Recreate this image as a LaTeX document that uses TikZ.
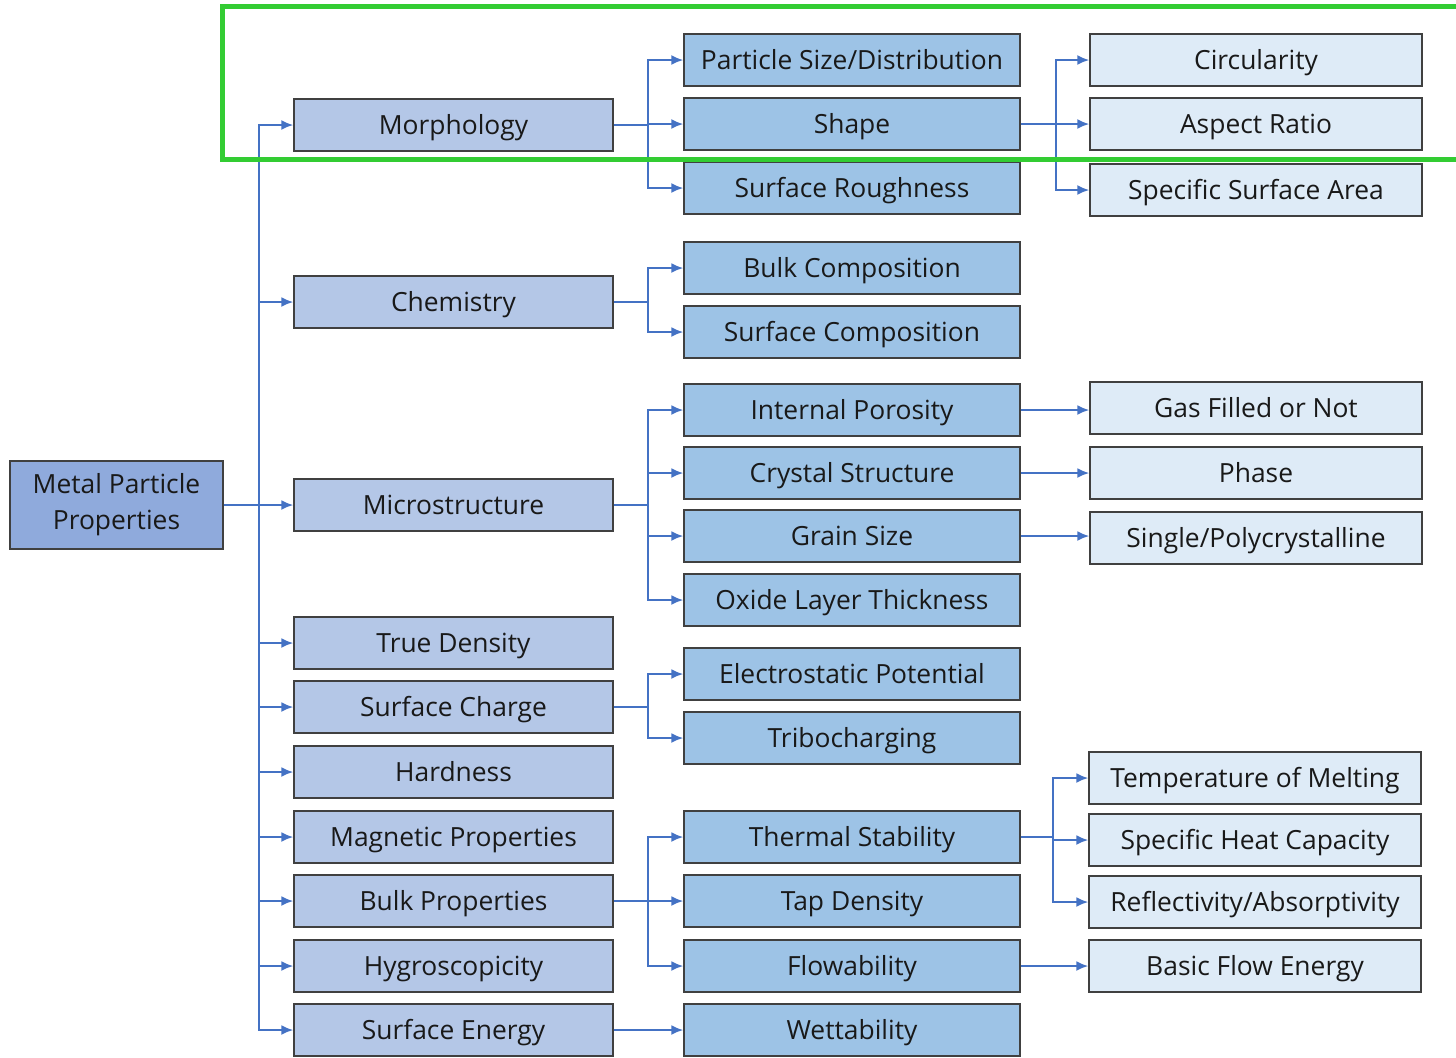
\documentclass[tikz,border=0pt]{standalone}
\usepackage{fontspec}
\setmainfont{Open Sans}
\usepackage{tikz}
\usetikzlibrary{arrows.meta,positioning}
\definecolor{rootblue}{HTML}{8FAADC}
\definecolor{lvlone}{HTML}{B4C7E7}
\definecolor{lvltwo}{HTML}{9DC3E6}
\definecolor{lvlthree}{HTML}{DEEBF7}
\definecolor{linkblue}{HTML}{4472C4}
\definecolor{framegreen}{HTML}{33CC33}
\tikzset{
    %Define standard arrow tip
    >={Latex[length=6pt,width=5pt]},
    %Define style for boxes
    basebox/.style={
           rectangle,
           draw=black!75, line width=0.7pt,
           inner sep=0pt,
           minimum height=26pt,
           font=\fontsize{13.2}{18}\selectfont,
           text=black!90,
           text centered},
    linebox/.style={
           basebox,
           text height=11.5pt,
           text depth=2.5pt},
    rootbox/.style={
           basebox,
           fill=rootblue,
           minimum width=106.5pt,
           minimum height=44pt,
           align=center},
    firstbox/.style={
           linebox,
           fill=lvlone,
           minimum width=159.5pt},
    secondbox/.style={
           linebox,
           fill=lvltwo,
           minimum width=168pt},
    thirdbox/.style={
           linebox,
           fill=lvlthree,
           minimum width=166pt},
    % Define arrow style
    pil/.style={
           ->,
           draw=linkblue,
           line width=1pt},
    lnk/.style={
           draw=linkblue,
           line width=1pt}
}
\begin{document}
\begin{tikzpicture}[x=0.5pt,y=-0.5pt]
\useasboundingbox (0,0) rectangle (1456,1057);
% root
\node[rootbox](root) at (116.5,505){Metal Particle\\Properties};
% first level
\foreach \name/\y/\txt in {morph/125/Morphology, chem/302/Chemistry, micro/505/Microstructure,
    true/643/True Density, charge/707/Surface Charge, hard/772/Hardness,
    magn/837/Magnetic Properties, bulk/901/Bulk Properties, hygro/966/Hygroscopicity,
    energy/1030/Surface Energy}
    \node[firstbox](\name) at (453.5,\y){\txt};
% second level
\node[secondbox](psd) at (852,60){Particle Size/Distribution};
\node[secondbox](shape) at (852,124){Shape};
\node[secondbox](rough) at (852,188){Surface Roughness};
\node[secondbox](bcomp) at (852,268){Bulk Composition};
\node[secondbox](scomp) at (852,332){Surface Composition};
\node[secondbox](poro) at (852,410){Internal Porosity};
\node[secondbox](cryst) at (852,473){Crystal Structure};
\node[secondbox](grain) at (852,536){Grain Size};
\node[secondbox](oxide) at (852,600){Oxide Layer Thickness};
\node[secondbox](elec) at (852,674){Electrostatic Potential};
\node[secondbox](tribo) at (852,738){Tribocharging};
\node[secondbox](therm) at (852,837){Thermal Stability};
\node[secondbox](tap) at (852,901){Tap Density};
\node[secondbox](flow) at (852,966){Flowability};
\node[secondbox](wett) at (852,1030){Wettability};
% third level
\node[thirdbox](circ) at (1256,60){Circularity};
\node[thirdbox](aspect) at (1256,124){Aspect Ratio};
\node[thirdbox](ssa) at (1256,190){Specific Surface Area};
\node[thirdbox](gas) at (1256,408){Gas Filled or Not};
\node[thirdbox](phase) at (1256,473){Phase};
\node[thirdbox](single) at (1256,538){Single/Polycrystalline};
\node[thirdbox](melt) at (1255,778){Temperature of Melting};
\node[thirdbox](heat) at (1255,840){Specific Heat Capacity};
\node[thirdbox](refl) at (1255,902){Reflectivity/Absorptivity};
\node[thirdbox](bfe) at (1255,966){Basic Flow Energy};
% trunk
\coordinate (trunk) at (259,505);
\draw[pil] (root.east) -- (micro.west);
\foreach \n in {morph,chem,true,charge,hard,magn,bulk,hygro,energy}
    \draw[pil] (trunk) |- (\n.west);
% branches of the first level
\coordinate (jmorph) at (648,125);
\coordinate (jchem) at (648,302);
\coordinate (jmicro) at (648,505);
\coordinate (jcharge) at (648,707);
\coordinate (jbulk) at (648,901);
\draw[lnk] (morph.east) -- (jmorph);
\draw[lnk] (chem.east) -- (jchem);
\draw[lnk] (micro.east) -- (jmicro);
\draw[lnk] (charge.east) -- (jcharge);
\draw[lnk] (bulk.east) -- (jbulk);
\foreach \n in {psd,shape,rough} \draw[pil] (jmorph) |- (\n.west);
\foreach \n in {bcomp,scomp} \draw[pil] (jchem) |- (\n.west);
\foreach \n in {poro,cryst,grain,oxide} \draw[pil] (jmicro) |- (\n.west);
\foreach \n in {elec,tribo} \draw[pil] (jcharge) |- (\n.west);
\foreach \n in {therm,tap,flow} \draw[pil] (jbulk) |- (\n.west);
\draw[pil] (energy.east) -- (wett.west);
% branches of the second level
\coordinate (jshape) at (1056,124);
\coordinate (jtherm) at (1053,837);
\draw[lnk] (shape.east) -- (jshape);
\draw[lnk] (therm.east) -- (jtherm);
\foreach \n in {circ,aspect,ssa} \draw[pil] (jshape) |- (\n.west);
\foreach \n in {melt,heat,refl} \draw[pil] (jtherm) |- (\n.west);
\draw[pil] (poro.east) -- (gas.west |- poro.east);
\draw[pil] (cryst.east) -- (phase.west);
\draw[pil] (grain.east) -- (single.west |- grain.east);
\draw[pil] (flow.east) -- (bfe.west);
% highlight frame
\draw[framegreen, line width=2.5pt] (1470,6) -- (222,6) -- (222,159) -- (1470,159);
\end{tikzpicture}
\end{document}
